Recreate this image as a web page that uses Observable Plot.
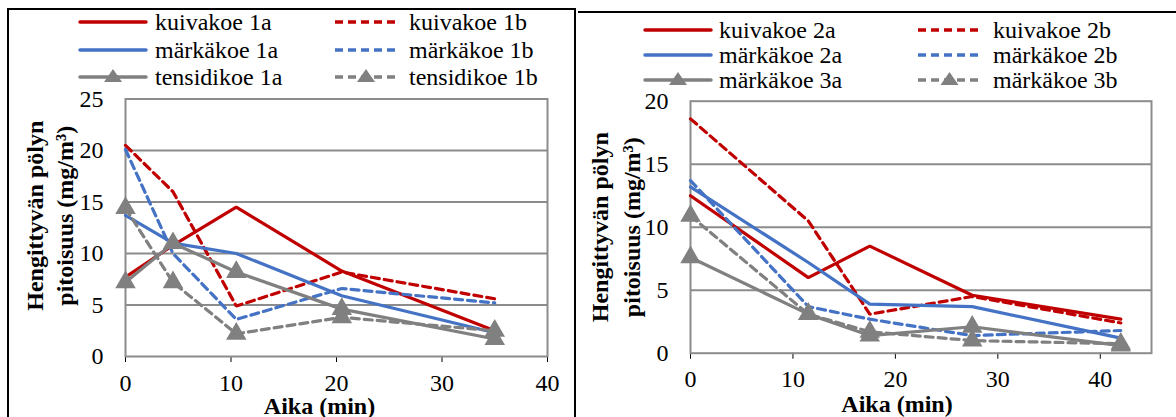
<!DOCTYPE html>
<html><head><meta charset="utf-8">
<script src="https://cdn.jsdelivr.net/npm/d3@7"></script>
<script src="https://cdn.jsdelivr.net/npm/@observablehq/plot@0.6"></script>
<style>
html,body{margin:0;padding:0;background:#fff;}
body{width:1176px;height:417px;overflow:hidden;position:relative;font-family:"Liberation Serif",serif;color:#000;}
.abs{position:absolute;}
.legend-item{position:absolute;display:flex;align-items:center;font-family:"Liberation Serif",serif;font-size:24px;line-height:24px;white-space:nowrap;height:24px;}
.legend-item svg{display:block;}
</style>
</head><body>
<div class="abs" style="left:7px;top:8px;width:569px;height:440px;border:2px solid #000;box-sizing:border-box;"></div>
<div class="abs" style="left:578px;top:11px;width:598px;height:2px;background:#000;"></div>
<div id="left" class="abs" style="left:0;top:0;width:577px;height:417px;"></div>
<div id="right" class="abs" style="left:577px;top:0;width:599px;height:417px;"></div>
<script>
// ---- data ----
const timesA = [0, 4.5, 10.5, 20.5, 35];
const kuivakoe1a = [7.7, 10.8, 14.5, 8.3, 2.5];
const kuivakoe1b = [20.5, 16.0, 4.9, 8.2, 5.6];
const markakoe1a = [13.7, 11.0, 10.0, 5.9, 2.3];
const markakoe1b = [20.1, 10.0, 3.6, 6.6, 5.2];
const tensidikoe1a = [7.2, 11.0, 8.2, 4.6, 1.7];
const tensidikoe1b = [14.4, 7.2, 2.2, 3.8, 2.5];

const timesB = [0, 11.5, 17.5, 27.5, 42];
const kuivakoe2a = [12.5, 6.0, 8.5, 4.6, 2.7];
const kuivakoe2b = [18.6, 10.5, 3.1, 4.5, 2.4];
const markakoe2a = [13.2, 7.2, 3.9, 3.7, 1.2];
const markakoe2b = [13.7, 3.7, 2.7, 1.4, 1.8];
const markakoe3a = [7.6, 3.1, 1.4, 2.1, 0.6];
const markakoe3b = [10.9, 3.1, 1.7, 1.0, 0.75];

const namesA = ["kuivakoe 1a", "kuivakoe 1b", "märkäkoe 1a", "märkäkoe 1b", "tensidikoe 1a", "tensidikoe 1b"];
const namesB = ["kuivakoe 2a", "kuivakoe 2b", "märkäkoe 2a", "märkäkoe 2b", "märkäkoe 3a", "märkäkoe 3b"];

const xTicksA = [0, 10, 20, 30, 40];
const yTicksA = [0, 5, 10, 15, 20, 25];
const xTicksB = [0, 10, 20, 30, 40];
const yTicksB = [0, 5, 10, 15, 20];

const yTitle = "Hengittyvän pölyn\npitoisuus (mg/m³)";
const xTitle = "Aika (min)";

// ---- styles ----
const RED = "#c00000", BLUE = "#4472c4", GRAY = "#808080", GRID = "#8c8c8c";
const styleOf = [
  {color: RED, dash: null, tri: false},
  {color: RED, dash: "8,5", tri: false},
  {color: BLUE, dash: null, tri: false},
  {color: BLUE, dash: "8,5", tri: false},
  {color: GRAY, dash: null, tri: true},
  {color: GRAY, dash: "8,5", tri: true}
];
const FONT = '"Liberation Serif",serif';

function chart(cfg) {
  const marks = [
    Plot.ruleY(cfg.yTicks.slice(1, -1), {stroke: GRID, strokeWidth: 2}),
    Plot.frame({stroke: GRID, strokeWidth: 2})
  ];
  cfg.series.forEach((vals, k) => {
    const st = styleOf[k];
    const rows = cfg.times.map((t, i) => ({t, v: vals[i]}));
    marks.push(Plot.line(rows, {x: "t", y: "v", stroke: st.color, strokeWidth: 3.2,
      strokeDasharray: st.dash, strokeLinejoin: "miter"}));
    if (st.tri) marks.push(Plot.dot(rows, {x: "t", y: "v", symbol: "triangle", r: 7.6, fill: st.color, stroke: "none"}));
  });
  marks.push(Plot.text([yTitle], {text: d => d, frameAnchor: "left", rotate: -90, dx: cfg.yTitleDx, dy: cfg.yTitleDy,
    fontFamily: FONT, fontWeight: "bold", fontSize: 24, lineHeight: cfg.yTitleLH, textAnchor: "middle", lineAnchor: "middle", fill: "#000"}));
  marks.push(Plot.text([xTitle], {text: d => d, frameAnchor: "bottom", dx: cfg.xTitleDx, dy: cfg.xTitleDy,
    fontFamily: FONT, fontWeight: "bold", fontSize: 24, textAnchor: "middle", lineAnchor: "middle", fill: "#000"}));
  return Plot.plot({
    width: cfg.width, height: cfg.height,
    marginLeft: cfg.ml, marginRight: cfg.mr, marginTop: cfg.mt, marginBottom: cfg.mb,
    style: {fontFamily: FONT, fontSize: "24px", color: "#000", background: "transparent", overflow: "visible"},
    x: {domain: cfg.xDomain, ticks: cfg.xTicks, tickSize: 6, tickPadding: 11, label: null, tickFormat: d => String(d)},
    y: {domain: cfg.yDomain, ticks: cfg.yTicks, tickSize: 0, tickPadding: 22, label: null, tickFormat: d => String(d)},
    marks
  });
}

function legend(container, names, cols, rows) {
  names.forEach((name, k) => {
    const st = styleOf[k];
    const col = k % 2, row = Math.floor(k / 2);
    const item = document.createElement("div");
    item.className = "legend-item";
    item.style.left = cols[col].x + "px";
    item.style.top = (rows[row] - 12) + "px";
    const w = cols[col].w;
    const tri = st.tri ? `<path d="M${w/2-9},17 L${w/2+9},17 L${w/2},4 Z" fill="${st.color}"/>` : "";
    item.innerHTML = `<svg width="${w}" height="24"><line x1="2" x2="${w-2}" y1="12" y2="12" stroke="${st.color}" stroke-width="3.5" ${st.dash ? 'stroke-dasharray="8,5"' : 'stroke-linecap="round"'}/>${tri}</svg><span style="margin-left:${cols[col].gap}px">${name}</span>`;
    container.appendChild(item);
  });
}

const left = document.getElementById("left");
const right = document.getElementById("right");

legend(left, namesA, [{x: 78, w: 70, gap: 7}, {x: 333, w: 66, gap: 10}], [22.3, 50, 76.7]);
legend(right, namesB, [{x: 643 - 577, w: 70, gap: 6}, {x: 916 - 577, w: 67, gap: 10}], [30, 55, 80]);

const svgA = chart({
  times: timesA, series: [kuivakoe1a, kuivakoe1b, markakoe1a, markakoe1b, tensidikoe1a, tensidikoe1b],
  xDomain: [0, 40], xTicks: xTicksA, yDomain: [0, 25], yTicks: yTicksA,
  width: 577, height: 332, ml: 125, mr: 30, mt: 13.5, mb: 61,
  yTitleDx: -77, yTitleDy: -12, yTitleLH: 1.22, xTitleDx: -17, xTitleDy: 50
});
svgA.style.position = "absolute"; svgA.style.left = "0px"; svgA.style.top = "85px";
left.appendChild(svgA);

const svgB = chart({
  times: timesB, series: [kuivakoe2a, kuivakoe2b, markakoe2a, markakoe2b, markakoe3a, markakoe3b],
  xDomain: [0, 45], xTicks: xTicksB, yDomain: [0, 20], yTicks: yTicksB,
  width: 599, height: 332, ml: 113, mr: 25, mt: 15.7, mb: 64.3,
  yTitleDx: -77, yTitleDy: 0, yTitleLH: 1.33, xTitleDx: -24, xTitleDy: 51.5
});
svgB.style.position = "absolute"; svgB.style.left = "0px"; svgB.style.top = "85px";
right.appendChild(svgB);
</script>
</body></html>
